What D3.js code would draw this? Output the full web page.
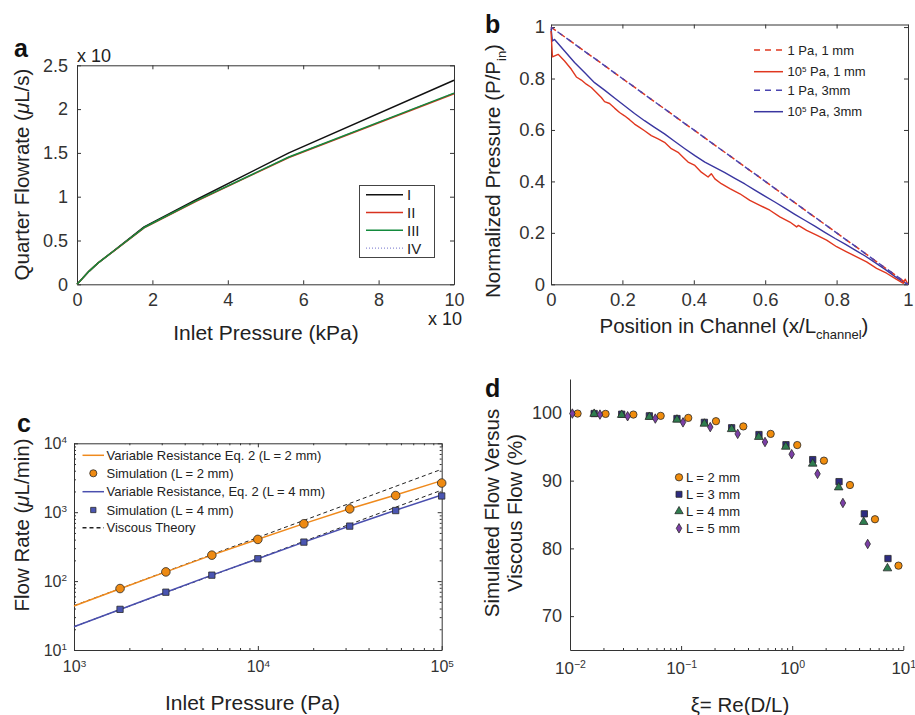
<!DOCTYPE html>
<html>
<head>
<meta charset="utf-8">
<script src="https://d3js.org/d3.v7.min.js"></script>
<style>
  body { margin: 0; background: #fff; }
  svg { display: block; font-family: "Liberation Sans", Arial, Helvetica, sans-serif; }
  .axis text { fill: #222; }
</style>
</head>
<body>
<script>
'use strict';

(function() {

  // ---- panel a : quarter flowrate vs inlet pressure
  const aPressure = [0, 0.1, 0.178, 0.316, 0.562, 1, 1.78, 3.16, 5.62, 10];
  const aFlowI   = [0, 0.047, 0.084, 0.148, 0.245, 0.39, 0.655, 0.965, 1.50, 2.33];
  const aFlowII  = [0, 0.047, 0.084, 0.148, 0.245, 0.388, 0.645, 0.948, 1.447, 2.175];
  const aFlowIII = [0, 0.047, 0.084, 0.148, 0.245, 0.389, 0.648, 0.952, 1.453, 2.182];
  const aFlowIV  = [0, 0.047, 0.084, 0.148, 0.245, 0.389, 0.648, 0.952, 1.453, 2.182];
  const aNames = ['I', 'II', 'III', 'IV'];
  const aXTicks = [0, 2, 4, 6, 8, 10];
  const aYTicks = [0, 0.5, 1, 1.5, 2, 2.5];

  // ---- panel b : normalized pressure along the channel
  const bLinX = [0, 1];
  const bLin1mm = [1, 0];
  const bLin3mm = [1, 0];
  const bRedX = [0, 0.004, 0.02, 0.038, 0.057, 0.071, 0.085, 0.099, 0.113, 0.127,
    0.141, 0.15, 0.164, 0.178, 0.192, 0.206, 0.22, 0.234, 0.248, 0.262,
    0.281, 0.3, 0.318, 0.337, 0.356, 0.37, 0.384, 0.403, 0.421, 0.44,
    0.449, 0.459, 0.477, 0.501, 0.529, 0.557, 0.585, 0.613, 0.641, 0.669,
    0.688, 0.693, 0.716, 0.744, 0.772, 0.8, 0.828, 0.856, 0.884, 0.912,
    0.94, 0.968, 0.987, 0.992, 1];
  const bRedP = [0.985, 0.884, 0.894, 0.868, 0.836, 0.806, 0.794, 0.778, 0.765, 0.746,
    0.726, 0.71, 0.703, 0.685, 0.668, 0.655, 0.64, 0.623, 0.61, 0.597,
    0.578, 0.565, 0.552, 0.527, 0.513, 0.494, 0.475, 0.462, 0.436, 0.417,
    0.43, 0.41, 0.391, 0.372, 0.352, 0.326, 0.307, 0.288, 0.262, 0.242,
    0.223, 0.229, 0.21, 0.191, 0.172, 0.146, 0.126, 0.107, 0.087, 0.062,
    0.043, 0.019, 0.004, 0.02, 0];
  const bBlueX = [0, 0.004, 0.01, 0.038, 0.066, 0.094, 0.122, 0.15, 0.178, 0.206,
    0.234, 0.262, 0.29, 0.318, 0.346, 0.375, 0.403, 0.431, 0.459, 0.487,
    0.515, 0.543, 0.571, 0.599, 0.627, 0.655, 0.683, 0.711, 0.739, 0.767,
    0.796, 0.824, 0.852, 0.88, 0.908, 0.936, 0.964, 0.985, 1];
  const bBlueP = [0.995, 0.946, 0.952, 0.907, 0.862, 0.823, 0.784, 0.755, 0.724, 0.694,
    0.664, 0.636, 0.61, 0.585, 0.556, 0.527, 0.5, 0.475, 0.455, 0.434,
    0.412, 0.39, 0.366, 0.343, 0.32, 0.296, 0.272, 0.249, 0.226, 0.202,
    0.178, 0.156, 0.133, 0.11, 0.084, 0.058, 0.03, 0.01, 0];
  const bLegend = [['1 Pa, 1 mm'], ['10', '5', ' Pa, 1 mm'], ['1 Pa, 3mm'], ['10', '5', ' Pa, 3mm']];
  const bTicks = [0, 0.2, 0.4, 0.6, 0.8, 1];

  // ---- panel c : flow rate vs inlet pressure (log-log)
  const cSimP = [1.78e3, 3.16e3, 5.62e3, 1e4, 1.78e4, 3.16e4, 5.62e4, 1e5];
  const cSim2 = [78, 136, 238, 403, 679, 1117, 1746, 2650];
  const cSim4 = [38.9, 69, 122, 211, 368, 628, 1057, 1720];
  const cModelP = [1e3, 1.78e3, 3.16e3, 5.62e3, 1e4, 1.78e4, 3.16e4, 5.62e4, 1e5];
  const cModel2 = [43.5, 77.5, 136, 238, 405, 682, 1120, 1780, 2870];
  const cModel4 = [21.8, 38.8, 69, 122, 211, 368, 630, 1070, 1780];
  const cViscP = [1e3, 1e5];
  const cVisc2 = [44, 4200];
  const cVisc4 = [21.8, 2090];
  const cLegend = ['Variable Resistance Eq. 2 (L = 2 mm)', 'Simulation (L = 2 mm)',
    'Variable Resistance, Eq. 2 (L = 4 mm)', 'Simulation (L = 4 mm)', 'Viscous Theory'];
  const cXTicks = [1e3, 1e4, 1e5];
  const cYTicks = [1e1, 1e2, 1e3, 1e4];

  // ---- panel d : simulated vs viscous flow
  const dXi2 = [0.0117, 0.0209, 0.0372, 0.0655, 0.116, 0.206, 0.363, 0.64, 1.11, 1.93, 3.31, 5.56, 9.05];
  const dFlow2 = [99.9, 99.85, 99.75, 99.56, 99.26, 98.77, 98.0, 96.9, 95.25, 92.95, 89.35, 84.3, 77.45];
  const dXi3 = [0.0165, 0.0292, 0.0518, 0.0918, 0.162, 0.285, 0.502, 0.879, 1.53, 2.64, 4.46, 7.28];
  const dFlow3 = [99.9, 99.8, 99.56, 99.16, 98.6, 97.8, 96.8, 95.3, 93.1, 89.85, 85.1, 78.5];
  const dXi4 = [0.0165, 0.0292, 0.0518, 0.0918, 0.162, 0.285, 0.5, 0.875, 1.53, 2.62, 4.4, 7.2];
  const dFlow4 = [99.85, 99.7, 99.4, 99.0, 98.4, 97.6, 96.45, 95.0, 92.5, 89.0, 83.9, 77.05];
  const dXi5 = [0.0105, 0.0186, 0.033, 0.0586, 0.104, 0.183, 0.323, 0.569, 0.989, 1.69, 2.86, 4.78];
  const dFlow5 = [99.9, 99.75, 99.5, 99.16, 98.6, 97.9, 96.9, 95.7, 93.9, 91.0, 86.7, 80.65];
  const dLegend = ['L = 2 mm', 'L = 3 mm', 'L = 4 mm', 'L = 5 mm'];
  const dXTicks = [1e-2, 1e-1, 1e0, 1e1];
  const dYTicks = [70, 80, 90, 100];

  let svg = ""; // keep SVG reference in outer scope

  window.onload = function() {
    svg = d3.select('body')
      .append('svg')
      .attr('width', 915)
      .attr('height', 715);

    makePanelA();
    makePanelB();
    makePanelC();
    makePanelD();
  };

  // panel a
  function makePanelA() {
    let x = d3.scaleLinear().domain([0, 10]).range([77, 454]);
    let y = d3.scaleLinear().domain([0, 2.5]).range([284.3, 65.3]);

    drawFrame(x, y, {xTicks: aXTicks, yTicks: aYTicks, xPad: 9, yPad: 9, font: 18, box: true});

    plotLine(x, y, aPressure, aFlowIV, '#8d8dd6', 1.2, '1,2');
    plotLine(x, y, aPressure, aFlowI, '#111', 1.5);
    plotLine(x, y, aPressure, aFlowII, '#d8321f', 1.5);
    plotLine(x, y, aPressure, aFlowIII, '#138a3c', 1.5);

    // legend
    svg.append('rect')
      .attr('x', 359.5).attr('y', 185.5).attr('width', 75).attr('height', 72)
      .attr('fill', '#fff').attr('stroke', '#444').attr('stroke-width', 1);
    let colors = ['#111', '#d8321f', '#138a3c', '#8d8dd6'];
    aNames.forEach((name, i) => {
      let ly = 194.7 + i * 17.8;
      svg.append('line')
        .attr('x1', 366).attr('x2', 403).attr('y1', ly).attr('y2', ly)
        .attr('stroke', colors[i]).attr('stroke-width', i == 3 ? 1.2 : 1.5)
        .attr('stroke-dasharray', i == 3 ? '1,2' : null);
      svg.append('text')
        .attr('x', 407).attr('y', ly + 5.5)
        .style('font-size', '15px').attr('fill', '#222')
        .text(name);
    });

    // labels
    panelLetter(14, 57, 'a');
    plainText(77, 62, 'x 10', 18, 'start');
    plainText(428, 325, 'x 10', 18, 'start');
    plainText(266, 340, 'Inlet Pressure (kPa)', 21, 'middle');

    let yt = svg.append('text')
      .attr('transform', 'translate(28.5, 174.5)rotate(-90)')
      .attr('text-anchor', 'middle')
      .style('font-size', '20.5px').attr('fill', '#222');
    yt.append('tspan').text('Quarter Flowrate (');
    yt.append('tspan').style('font-style', 'italic').text('\u03bc');
    yt.append('tspan').text('L/s)');
  }

  // panel b
  function makePanelB() {
    let x = d3.scaleLinear().domain([0, 1]).range([551, 908]);
    let y = d3.scaleLinear().domain([0, 1.01]).range([284.3, 24.5]);

    drawFrame(x, y, {xTicks: bTicks, yTicks: bTicks, xPad: 9, yPad: 6, font: 18.5, box: true});

    plotLine(x, y, bBlueX, bBlueP, '#3a36a0', 1.4);
    plotLine(x, y, bRedX, bRedP, '#e0371f', 1.4);
    plotLine(x, y, bLinX, bLin1mm, '#e0371f', 1.5, '6,5');
    plotLine(x, y, bLinX, bLin3mm, '#4a44b0', 1.5, '6,5', 3);

    // legend
    let styles = [['#e0371f', '6,5'], ['#e0371f', null], ['#4a44b0', '6,5'], ['#3a36a0', null]];
    let rows = [50, 71.7, 90.3, 111.7];
    bLegend.forEach((parts, i) => {
      svg.append('line')
        .attr('x1', 754).attr('x2', 783).attr('y1', rows[i]).attr('y2', rows[i])
        .attr('stroke', styles[i][0]).attr('stroke-width', 1.5)
        .attr('stroke-dasharray', styles[i][1]);
      let t = svg.append('text')
        .attr('x', 787.5).attr('y', rows[i] + 4.5)
        .style('font-size', '13px').attr('fill', '#222');
      if (parts.length == 1) {
        t.text(parts[0]);
      } else {
        t.append('tspan').text(parts[0]);
        t.append('tspan').attr('dy', -4).style('font-size', '8px').text(parts[1]);
        t.append('tspan').attr('dy', 4).text(parts[2]);
      }
    });

    panelLetter(485, 33, 'b');

    let xt = svg.append('text')
      .attr('x', 734).attr('y', 333)
      .attr('text-anchor', 'middle')
      .style('font-size', '20.5px').attr('fill', '#222');
    xt.append('tspan').text('Position in Channel (x/L');
    xt.append('tspan').attr('dy', 6).style('font-size', '13px').text('channel');
    xt.append('tspan').attr('dy', -6).text(')');

    let yt = svg.append('text')
      .attr('transform', 'translate(500, 171)rotate(-90)')
      .attr('text-anchor', 'middle')
      .style('font-size', '20.5px').attr('fill', '#222');
    yt.append('tspan').text('Normalized Pressure (P/P');
    yt.append('tspan').attr('dy', 6).style('font-size', '13px').text('in');
    yt.append('tspan').attr('dy', -6).text(')');
  }

  // panel c
  function makePanelC() {
    let x = d3.scaleLog().domain([1e3, 1e5]).range([74, 441.7]);
    let y = d3.scaleLog().domain([1e1, 1e4]).range([650, 443.3]);

    drawFrame(x, y, {xTicks: cXTicks, yTicks: cYTicks, xPad: 11, yPad: 7, font: 16,
      box: true, power: true, minor: true});

    plotLine(x, y, cViscP, cVisc2, '#222', 1, '4,3');
    plotLine(x, y, cViscP, cVisc4, '#222', 1, '4,3');
    plotLine(x, y, cModelP, cModel2, '#ef8a1d', 1.5);
    plotLine(x, y, cModelP, cModel4, '#4a4fae', 1.5);
    plotMarkers(x, y, cSimP, cSim2, d3.symbolCircle, 58, '#ee8a12');
    plotMarkers(x, y, cSimP, cSim4, d3.symbolSquare, 40, '#4a55b2');

    // legend
    let rows = [455.3, 473.3, 491.7, 510, 527.7];
    let lineLeg = function(ly, color, dash) {
      svg.append('line')
        .attr('x1', 82.5).attr('x2', 104).attr('y1', ly).attr('y2', ly)
        .attr('stroke', color).attr('stroke-width', 1.5).attr('stroke-dasharray', dash);
    };
    lineLeg(rows[0], '#ef8a1d', null);
    markerAt(93.3, rows[1], d3.symbolCircle, 40, '#ee8a12');
    lineLeg(rows[2], '#4a4fae', null);
    markerAt(93.3, rows[3], d3.symbolSquare, 28, '#4a55b2');
    lineLeg(rows[4], '#222', '4,3');
    cLegend.forEach((label, i) => {
      svg.append('text')
        .attr('x', 106.5).attr('y', rows[i] + 4.6)
        .style('font-size', '13px').attr('fill', '#222')
        .text(label);
    });

    panelLetter(17, 432, 'c');
    plainText(252.5, 710, 'Inlet Pressure (Pa)', 21, 'middle');

    let yt = svg.append('text')
      .attr('transform', 'translate(28.5, 525)rotate(-90)')
      .attr('text-anchor', 'middle')
      .style('font-size', '20.5px').attr('fill', '#222');
    yt.append('tspan').text('Flow Rate (');
    yt.append('tspan').style('font-style', 'italic').text('\u03bc');
    yt.append('tspan').text('L/min)');
  }

  // panel d
  function makePanelD() {
    let x = d3.scaleLog().domain([1e-2, 1e1]).range([570, 903.3]);
    let y = d3.scaleLinear().domain([65, 105]).range([650, 379]);

    drawFrame(x, y, {xTicks: dXTicks, yTicks: dYTicks, xPad: 12, yPad: 8, font: 17,
      yFont: 18, box: false, power: true, minor: true, yMinor: false});

    plotMarkers(x, y, dXi2, dFlow2, d3.symbolCircle, 42, '#f08c0c');
    plotMarkers(x, y, dXi3, dFlow3, d3.symbolSquare, 40, '#2d2b80');
    plotMarkers(x, y, dXi4, dFlow4, d3.symbolTriangle, 32, '#2e7d4f');
    plotMarkers(x, y, dXi5, dFlow5, d3.symbolDiamond, 26, '#7b3fa6');

    // legend
    let symbols = [d3.symbolCircle, d3.symbolSquare, d3.symbolTriangle, d3.symbolDiamond];
    let sizes = [42, 36, 30, 26];
    let fills = ['#f08c0c', '#2d2b80', '#2e7d4f', '#7b3fa6'];
    dLegend.forEach((label, i) => {
      let ly = 477.3 + i * 17;
      markerAt(679, ly, symbols[i], sizes[i], fills[i]);
      svg.append('text')
        .attr('x', 686).attr('y', ly + 4.6)
        .style('font-size', '13px').attr('fill', '#222')
        .text(label);
    });

    panelLetter(485, 396.7, 'd');
    plainText(740, 711.5, '\u03be= Re(D/L)', 20.5, 'middle');

    let yt = svg.append('text')
      .attr('transform', 'translate(498.5, 513)rotate(-90)')
      .attr('text-anchor', 'middle')
      .style('font-size', '20.5px').attr('fill', '#222');
    yt.append('tspan').attr('x', 0).text('Simulated Flow Versus');
    yt.append('tspan').attr('x', 0).attr('dy', 23.5).text('Viscous Flow (%)');
  }

  // draw axes with inward ticks, optional box and log minor ticks
  function drawFrame(xScale, yScale, opt) {
    let xr = xScale.range();
    let yr = yScale.range();
    let fmt = d3.format('~g');

    let bottom = svg.append('g')
      .attr('transform', 'translate(0,' + yr[0] + ')')
      .call(d3.axisBottom(xScale).tickValues(opt.xTicks).tickSizeInner(-4)
        .tickSizeOuter(0).tickPadding(opt.xPad).tickFormat(fmt));
    let left = svg.append('g')
      .attr('transform', 'translate(' + xr[0] + ',0)')
      .call(d3.axisLeft(yScale).tickValues(opt.yTicks).tickSizeInner(-4)
        .tickSizeOuter(0).tickPadding(opt.yPad).tickFormat(fmt));

    styleAxis(bottom, opt.font);
    styleAxis(left, opt.yFont || opt.font);

    if (opt.power) {
      bottom.selectAll('.tick text').each(powerLabel);
      if (yScale.base) left.selectAll('.tick text').each(powerLabel);
    }

    if (opt.box) {
      let top = svg.append('g')
        .attr('transform', 'translate(0,' + yr[1] + ')')
        .call(d3.axisTop(xScale).tickValues(opt.xTicks).tickSizeInner(-4)
          .tickSizeOuter(0).tickFormat(''));
      let right = svg.append('g')
        .attr('transform', 'translate(' + xr[1] + ',0)')
        .call(d3.axisRight(yScale).tickValues(opt.yTicks).tickSizeInner(-4)
          .tickSizeOuter(0).tickFormat(''));
      styleAxis(top, opt.font);
      styleAxis(right, opt.font);
    }

    if (opt.minor) {
      let xMinor = minorTicks(xScale.domain());
      minorAxis(d3.axisBottom(xScale), xMinor, 'translate(0,' + yr[0] + ')');
      if (opt.box) minorAxis(d3.axisTop(xScale), xMinor, 'translate(0,' + yr[1] + ')');
      if (yScale.base && opt.yMinor !== false) {
        let yMinor = minorTicks(yScale.domain());
        minorAxis(d3.axisLeft(yScale), yMinor, 'translate(' + xr[0] + ',0)');
        if (opt.box) minorAxis(d3.axisRight(yScale), yMinor, 'translate(' + xr[1] + ',0)');
      }
    }
  }

  function styleAxis(g, size) {
    g.attr('font-size', null).attr('font-family', null).attr('color', '#333');
    g.selectAll('text').style('font-size', size + 'px');
  }

  function minorAxis(axis, values, transform) {
    let g = svg.append('g')
      .attr('transform', transform)
      .call(axis.tickValues(values).tickSizeInner(-2).tickSizeOuter(0).tickFormat(''));
    g.attr('color', '#333');
    g.select('.domain').remove();
  }

  // minor tick positions 2..9 inside each decade
  function minorTicks(domain) {
    let out = [];
    let lo = Math.round(Math.log10(domain[0]));
    let hi = Math.round(Math.log10(domain[1]));
    for (let e = lo; e < hi; e++) {
      for (let k = 2; k <= 9; k++) out.push(k * Math.pow(10, e));
    }
    return out;
  }

  // 10 with superscript exponent
  function powerLabel(d) {
    let t = d3.select(this);
    let e = Math.round(Math.log10(d));
    t.text('10');
    t.append('tspan')
      .attr('dy', '-0.55em')
      .style('font-size', '0.62em')
      .text(e < 0 ? '\u2212' + (-e) : e);
  }

  function plotLine(x, y, xs, ys, color, width, dash, offset) {
    let line = d3.line()
      .x((d) => x(d[0]))
      .y((d) => y(d[1]));
    svg.append('path')
      .datum(d3.zip(xs, ys))
      .attr('fill', 'none')
      .attr('stroke', color)
      .attr('stroke-width', width)
      .attr('stroke-linejoin', 'round')
      .attr('stroke-dasharray', dash || null)
      .attr('stroke-dashoffset', offset || null)
      .attr('d', line);
  }

  function plotMarkers(x, y, xs, ys, type, size, fill) {
    svg.append('g')
      .selectAll('path')
      .data(d3.zip(xs, ys))
      .enter()
      .append('path')
        .attr('transform', (d) => 'translate(' + x(d[0]) + ',' + y(d[1]) + ')')
        .attr('d', d3.symbol().type(type).size(size))
        .attr('fill', fill)
        .attr('stroke', '#2a2a2a')
        .attr('stroke-width', 0.8);
  }

  function markerAt(cx, cy, type, size, fill) {
    svg.append('path')
      .attr('transform', 'translate(' + cx + ',' + cy + ')')
      .attr('d', d3.symbol().type(type).size(size))
      .attr('fill', fill)
      .attr('stroke', '#2a2a2a')
      .attr('stroke-width', 0.8);
  }

  function panelLetter(px, py, letter) {
    svg.append('text')
      .attr('x', px).attr('y', py)
      .style('font-size', '25px').style('font-weight', 'bold')
      .attr('fill', '#111')
      .text(letter);
  }

  function plainText(px, py, str, size, anchor) {
    svg.append('text')
      .attr('x', px).attr('y', py)
      .attr('text-anchor', anchor)
      .style('font-size', size + 'px')
      .attr('fill', '#222')
      .text(str);
  }

})();
</script>
</body>
</html>
